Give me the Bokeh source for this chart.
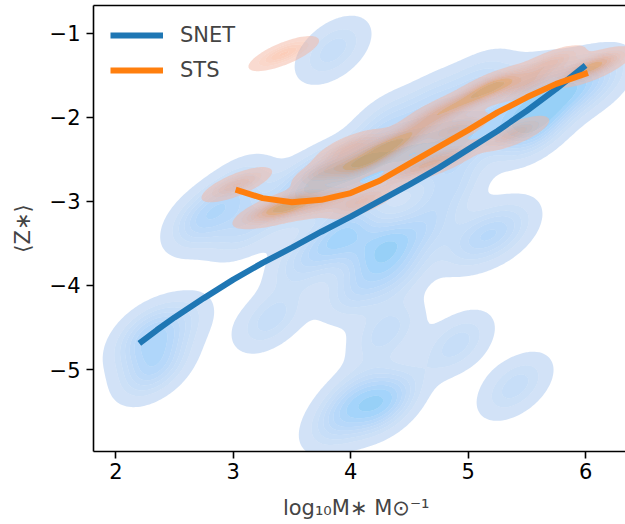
import math
import numpy as np
from bokeh.plotting import figure
from bokeh.models import LinearAxis, Legend, LegendItem, Range1d
from bokeh.embed import file_html
from bokeh.resources import INLINE

# ---------------- data ----------------
# SNET sample (log10 M*, <Z*>) and weights
snet_x = [2.27, 2.33, 2.55, 2.75, 3.10, 3.05, 3.85, 3.32,
          4.28, 4.05, 3.90, 4.30, 3.94, 4.28, 4.40, 4.05, 4.65, 5.05, 5.30, 3.60,
          3.50, 3.75, 4.10, 4.50, 4.90, 4.30, 4.70, 5.10, 5.30, 5.55, 5.75, 6.10, 5.85,
          5.50, 4.85, 4.90, 5.40]
snet_y = [-4.60, -4.98, -4.45, -3.20, -3.30, -2.85, -1.20, -4.40,
          -5.40, -5.30, -5.60, -4.55, -3.40, -3.55, -3.85, -4.05, -3.30, -3.45, -3.35, -3.70,
          -2.95, -2.75, -2.60, -2.45, -2.25, -2.10, -1.85, -1.60, -2.05, -2.10, -1.75,
          -1.55, -1.65, -1.65, -2.80, -4.70, -5.20]
snet_w = [1.5, 1.5, 0.6, 1.5, 1, 1, 1, 1,
          2, 1, 1, 1, 2, 2, 1, 1, 1, 1, 1, 1,
          1, 2, 2, 2, 2, 1, 1, 1, 1, 2, 1, 1, 1,
          1, 1, 1, 1]

# STS sample
sts_x = [3.03, 3.30, 3.50, 3.80, 4.10, 3.80, 4.11, 4.34, 4.00, 4.55, 4.79, 4.60, 4.88, 4.77,
         5.00, 5.22, 5.39, 5.70, 5.50, 6.05, 3.43]
sts_y = [-2.80, -3.10, -3.05, -3.00, -3.00, -2.62, -2.54, -2.33, -2.35, -2.60, -2.50, -2.10,
         -2.15, -1.92, -1.80, -1.62, -2.19, -1.35, -1.60, -1.40, -1.24]
sts_w = [1, 1, 2, 1, 1, 1, 2, 2, 1, 1, 1, 1, 1, 1, 1, 2, 1, 1, 1, 2, 1]

# mean relations
snet_line_x = [2.2, 2.35, 2.5, 2.75, 3.0, 3.25, 3.5, 3.75, 4.0, 4.25, 4.5, 4.75, 5.0,
               5.25, 5.5, 5.75, 6.0]
snet_line_y = [-4.69, -4.53, -4.38, -4.15, -3.93, -3.73, -3.55, -3.36, -3.18, -2.99, -2.80,
               -2.60, -2.38, -2.16, -1.92, -1.66, -1.38]
sts_line_x = [3.02, 3.25, 3.5, 3.75, 4.0, 4.25, 4.5, 4.75, 5.0, 5.25, 5.5, 5.75, 6.02]
sts_line_y = [-2.86, -2.96, -3.01, -2.98, -2.90, -2.75, -2.55, -2.35, -2.15, -1.94, -1.76,
              -1.60, -1.47]

x_ticks = [2, 3, 4, 5, 6]
y_ticks = [-1, -2, -3, -4, -5]

BLUE = "#1f77b4"
ORANGE = "#ff7f0e"

# ---------------- husl colour ramp (as seaborn) ----------------
_m = [[3.2406, -1.5372, -0.4986], [-0.9689, 1.8758, 0.0415], [0.0557, -0.2040, 1.0570]]
_minv = [[0.4124, 0.3576, 0.1805], [0.2126, 0.7152, 0.0722], [0.0193, 0.1192, 0.9505]]
_refY, _refU, _refV = 1.0, 0.19784, 0.46834
_lab_e, _lab_k = 0.008856, 903.3


def _max_chroma(L, H):
    hrad = math.radians(H)
    sinH, cosH = math.sin(hrad), math.cos(hrad)
    sub1 = (L + 16) ** 3 / 1560896.0
    sub2 = sub1 if sub1 > _lab_e else L / _lab_k
    res = float("inf")
    for m1, m2, m3 in _m:
        top = (0.99915 * m1 + 1.05122 * m2 + 1.14460 * m3) * sub2
        rb = 0.86330 * m3 - 0.17266 * m2
        lb = 0.12949 * m3 - 0.38848 * m1
        bottom = (rb * sinH + lb * cosH) * sub2
        for t in (0.0, 1.0):
            C = L * (top - 1.05122 * t) / (bottom + 0.17266 * sinH * t)
            if 0.0 < C < res:
                res = C
    return res


def _f(t):
    return t ** (1 / 3) if t > _lab_e else 7.787 * t + 16 / 116


def _finv(t):
    return t ** 3 if t ** 3 > _lab_e else (116 * t - 16) / _lab_k


def _to_lin(c):
    return ((c + 0.055) / 1.055) ** 2.4 if c > 0.04045 else c / 12.92


def _from_lin(c):
    return 12.92 * c if c <= 0.0031308 else 1.055 * c ** (1 / 2.4) - 0.055


def rgb_to_husl(r, g, b):
    rl = [_to_lin(c) for c in (r, g, b)]
    X, Y, Z = [sum(a * b for a, b in zip(row, rl)) for row in _minv]
    d = X + 15 * Y + 3 * Z
    L = 116 * _f(Y / _refY) - 16
    U = 13 * L * (4 * X / d - _refU)
    V = 13 * L * (9 * Y / d - _refV)
    C = math.hypot(U, V)
    H = math.degrees(math.atan2(V, U)) % 360
    return H, C / _max_chroma(L, H) * 100, L


def husl_to_rgb(H, S, L):
    if L > 99.9999999:
        return (1.0, 1.0, 1.0)
    if L < 1e-8:
        return (0.0, 0.0, 0.0)
    C = _max_chroma(L, H) / 100 * S
    U = math.cos(math.radians(H)) * C
    V = math.sin(math.radians(H)) * C
    Y = _finv((L + 16) / 116) * _refY
    vU = U / (13 * L) + _refU
    vV = V / (13 * L) + _refV
    X = 0 - (9 * Y * vU) / ((vU - 4) * vV - vU * vV)
    Z = (9 * Y - 15 * vV * Y - vV * X) / (3 * vV)
    return tuple(min(1, max(0, _from_lin(sum(a * b for a, b in zip(row, (X, Y, Z)))))) for row in _m)


def cmap_from_color(hexcol):
    r, g, b = [int(hexcol[i:i + 2], 16) / 255 for i in (1, 3, 5)]
    h, s, _ = rgb_to_husl(r, g, b)
    xx = np.linspace(-1, 1, int(1.15 * 256))[:256]
    ls = np.linspace(35, 80, 256)
    cols = [husl_to_rgb(h, s * math.cos(a), l) for a, l in zip(xx, ls)]
    return cols[::-1]


def to_hex(c):
    return "#%02x%02x%02x" % tuple(int(round(v * 255)) for v in c)


# ---------------- KDE ----------------
gx = np.linspace(1.2, 7.0, 300)
gy = np.linspace(-6.6, -0.1, 300)
XX, YY = np.meshgrid(gx, gy)


def kde(px, py, w, bw):
    px, py, w = map(np.asarray, (px, py, w))
    cov = np.cov(np.vstack([px, py]), aweights=w) * bw ** 2
    ki = np.linalg.inv(cov)
    dens = np.zeros_like(XX)
    for x0, y0, wi in zip(px, py, w):
        dx, dy = XX - x0, YY - y0
        q = ki[0, 0] * dx * dx + 2 * ki[0, 1] * dx * dy + ki[1, 1] * dy * dy
        dens += wi * np.exp(-0.5 * q)
    return dens / dens.sum()


def iso_levels(dens, thresh=0.05, n=10):
    vals = np.sort(dens.ravel())[::-1]
    cum = np.cumsum(vals) / vals.sum()
    q = np.linspace(thresh, 1, n)
    idx = np.searchsorted(cum, 1 - q)
    return list(np.take(vals, idx, mode="clip"))


def band_colors(levels, hexcol, span):
    cm = cmap_from_color(hexcol)
    lo, hi = levels[0], levels[-1]
    out = []
    for a, b in zip(levels[:-1], levels[1:]):
        t = span * (0.5 * (a + b) - lo) / (hi - lo)
        out.append(to_hex(cm[min(255, int(t * 255))]))
    return out


# ---------------- figure ----------------
FONT = "DejaVu Sans"
p = figure(width=625, height=524, output_backend="svg", toolbar_location=None,
           x_range=Range1d(1.81, 6.34), y_range=Range1d(-5.976, -0.667),
           min_border_left=93, min_border_right=0, min_border_top=5, min_border_bottom=73)
p.outline_line_color = None
p.grid.visible = False
p.background_fill_color = "white"

for xs, ys, ws, bw, col, span in ((snet_x, snet_y, snet_w, 0.2, BLUE, 0.42),
                                  (sts_x, sts_y, sts_w, 0.19, ORANGE, 0.45)):
    d = kde(xs, ys, ws, bw)
    lv = iso_levels(d)
    p.contour(x=gx, y=gy, z=d, levels=lv, fill_color=band_colors(lv, col, span), fill_alpha=0.5,
              line_color=None)

r1 = p.line(snet_line_x, snet_line_y, line_color=BLUE, line_width=6)
r2 = p.line(sts_line_x, sts_line_y, line_color=ORANGE, line_width=6)

legend = Legend(items=[LegendItem(label="SNET", renderers=[r1]), LegendItem(label="STS", renderers=[r2])],
                location="top_left", border_line_alpha=0, background_fill_alpha=0,
                padding=0, margin=17, spacing=9, glyph_width=53, glyph_height=26,
                label_standoff=17, label_text_font=FONT, label_text_font_size="21px")
p.add_layout(legend)

for ax in (p.xaxis[0], p.yaxis[0]):
    ax.major_label_text_font = FONT
    ax.major_label_text_font_size = "21px"
    ax.major_label_text_color = "black"
    ax.axis_label_text_font = FONT
    ax.axis_label_text_font_size = "21px"
    ax.axis_label_text_font_style = "normal"
    ax.minor_tick_line_color = None
    ax.major_tick_in = 0
    ax.major_tick_out = 7
    ax.axis_line_width = 1.6
    ax.major_tick_line_width = 1.6
p.xaxis.ticker = x_ticks
p.yaxis.ticker = y_ticks
p.yaxis.major_label_overrides = {v: "\u2212%d" % abs(v) for v in y_ticks}
p.xaxis.axis_label = "log\u2081\u2080M\u2217  M\u2299\u207b\u00b9"
p.yaxis.axis_label = "\u27e8Z\u2217\u27e9"
p.xaxis.axis_label_standoff = 14
p.yaxis.axis_label_standoff = 12
p.yaxis.major_label_standoff = 6
p.xaxis.major_label_standoff = 4

top = LinearAxis(ticker=[], major_label_text_font_size="0px", axis_line_width=1.6,
                 major_tick_line_color=None, minor_tick_line_color=None)
p.add_layout(top, "above")

open("out.html", "w").write(file_html(p, INLINE))
